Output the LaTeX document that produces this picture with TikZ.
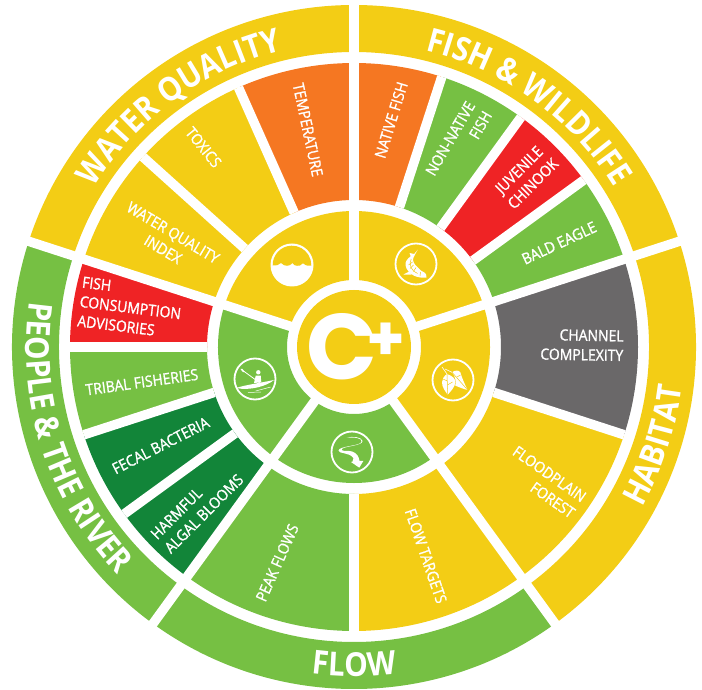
\documentclass[tikz,border=0pt]{standalone}
\usepackage{fontspec}
\usetikzlibrary{decorations.text}
\newfontfamily\wheelfont[FakeStretch=0.9,FakeBold=1.2]{Open Sans}
\newfontfamily\ringfont[FakeStretch=0.9]{Open Sans Bold}
\newfontfamily\gradefont{Poppins Bold}
\definecolor{wheelyellow}{HTML}{F3CD15}
\definecolor{wheelgreen}{HTML}{76C043}
\definecolor{wheelorange}{HTML}{F57722}
\definecolor{wheelred}{HTML}{EF2325}
\definecolor{wheeldark}{HTML}{128539}
\definecolor{wheelgray}{HTML}{6A6869}
\begin{document}
\begin{tikzpicture}[x=1pt,y=1pt]
    \tikzstyle{outerseg}=[line width=47pt]
    \tikzstyle{midseg}=[line width=137pt]
    \tikzstyle{innerseg}=[line width=69pt]
    \tikzstyle{gap}=[white,line width=9.5pt]
    \tikzstyle{label}=[text=white,font=\wheelfont\fontsize{15.5}{19.5}\selectfont,inner sep=0pt]
    \tikzstyle{ring}=[draw=white,line width=1.8pt,circle,minimum size=41pt,inner sep=0pt]
    \tikzstyle{glyph}=[fill=white,draw=none]
    \tikzstyle{vein}=[draw=wheelyellow,line width=0.5pt]

    \useasboundingbox (0,0) rectangle (702,689);
    \begin{scope}[shift={(354,342)}]

    % outer ring
    \draw[outerseg,wheelyellow] (162:318.5) arc (162:90:318.5pt);
    \draw[outerseg,wheelyellow] (90:318.5) arc (90:18:318.5pt);
    \draw[outerseg,wheelyellow] (18:318.5) arc (18:-54:318.5pt);
    \draw[outerseg,wheelgreen] (-54:318.5) arc (-54:-126:318.5pt);
    \draw[outerseg,wheelgreen] (-126:318.5) arc (-126:-198:318.5pt);

    % middle ring
    \draw[midseg,wheelorange] (90:215.5) arc (90:114:215.5pt);
    \draw[midseg,wheelyellow] (114:215.5) arc (114:138:215.5pt);
    \draw[midseg,wheelyellow] (138:215.5) arc (138:162:215.5pt);
    \draw[midseg,wheelred] (162:215.5) arc (162:180:215.5pt);
    \draw[midseg,wheelgreen] (180:215.5) arc (180:198:215.5pt);
    \draw[midseg,wheeldark] (198:215.5) arc (198:216:215.5pt);
    \draw[midseg,wheeldark] (216:215.5) arc (216:234:215.5pt);
    \draw[midseg,wheelgreen] (234:215.5) arc (234:270:215.5pt);
    \draw[midseg,wheelyellow] (270:215.5) arc (270:306:215.5pt);
    \draw[midseg,wheelyellow] (306:215.5) arc (306:342:215.5pt);
    \draw[midseg,wheelgray] (342:215.5) arc (342:378:215.5pt);
    \draw[midseg,wheelgreen] (18:215.5) arc (18:36:215.5pt);
    \draw[midseg,wheelred] (36:215.5) arc (36:54:215.5pt);
    \draw[midseg,wheelgreen] (54:215.5) arc (54:72:215.5pt);
    \draw[midseg,wheelorange] (72:215.5) arc (72:90:215.5pt);

    % inner ring
    \draw[innerseg,wheelyellow] (18:101.5) arc (18:90:101.5pt);
    \draw[innerseg,wheelyellow] (90:101.5) arc (90:162:101.5pt);
    \draw[innerseg,wheelgreen] (162:101.5) arc (162:234:101.5pt);
    \draw[innerseg,wheelgreen] (234:101.5) arc (234:306:101.5pt);
    \draw[innerseg,wheelyellow] (306:101.5) arc (306:378:101.5pt);

    % gaps
    \draw[gap] (18:60) -- (18:345);
    \draw[gap] (90:60) -- (90:345);
    \draw[gap] (162:60) -- (162:345);
    \draw[gap] (234:60) -- (234:345);
    \draw[gap] (306:60) -- (306:345);
    \draw[gap] (114:147) -- (114:284);
    \draw[gap] (138:147) -- (138:284);
    \draw[gap] (180:147) -- (180:284);
    \draw[gap] (198:147) -- (198:284);
    \draw[gap] (216:147) -- (216:284);
    \draw[gap] (270:147) -- (270:284);
    \draw[gap] (342:147) -- (342:284);
    \draw[gap] (36:147) -- (36:284);
    \draw[gap] (54:147) -- (54:284);
    \draw[gap] (72:147) -- (72:284);

    % center
    \fill[wheelyellow] (0,0) circle (57pt);
    \node[text=white,font=\gradefont\fontsize{93}{93}\selectfont,inner sep=0pt] at (-12,0) (grade) {C};
    \node[text=white,font=\gradefont\fontsize{62}{62}\selectfont,inner sep=0pt] at (31.5,5) (gradeplus) {+};

    % outer labels
    \path[decorate,decoration={text along path,text align=center,text={|\ringfont\fontsize{33}{33}\selectfont\color{white}|WATER QUALITY}}] (162:305) arc (162:90:305pt);
    \path[decorate,decoration={text along path,text align=center,text={|\ringfont\fontsize{33}{33}\selectfont\color{white}|FISH {\&} WILDLIFE}}] (90:305) arc (90:18:305pt);
    \path[decorate,decoration={text along path,text align=center,text={|\ringfont\fontsize{33}{33}\selectfont\color{white}|HABITAT}}] (-54:330) arc (-54:18:330pt);
    \path[decorate,decoration={text along path,text align=center,text={|\ringfont\fontsize{33}{33}\selectfont\color{white}|FLOW}}] (-126:329) arc (-126:-54:329pt);
    \path[decorate,decoration={text along path,text align=center,text={|\ringfont\fontsize{33}{33}\selectfont\color{white}|PEOPLE {\&} THE RIVER}}] (162:328) arc (162:234:328pt);

    % middle labels
    \node[label,rotate=-78] at (102:222) (temperature) {TEMPERATURE};
    \node[label,rotate=-51] at (127:250) (toxics) {TOXICS};
    \node[label,rotate=-31,align=center] at (150.3:214) (wqindex) {WATER QUALITY\\INDEX};
    \node[label,rotate=-7,align=left] at (170:227) (fishadvisories) {FISH\\CONSUMPTION\\ADVISORIES};
    \node[label,rotate=8] at (189.4:215) (tribal) {TRIBAL FISHERIES};
    \node[label,rotate=27] at (207:217) (fecal) {FECAL BACTERIA};
    \node[label,rotate=45,align=left] at (225.5:224) (algal) {HARMFUL\\ALGAL BLOOMS};
    \node[label,rotate=66] at (250.4:229) (peak) {PEAK FLOWS};
    \node[label,rotate=-71] at (-71:221) (targets) {FLOW TARGETS};
    \node[label,rotate=-35,align=right] at (-35.4:233) (floodplain) {FLOODPLAIN\\FOREST};
    \node[label,rotate=-1,align=right] at (0.5:228) (channel) {CHANNEL\\COMPLEXITY};
    \node[label,rotate=25] at (26.9:230) (eagle) {BALD EAGLE};
    \node[label,rotate=45,align=center] at (44.7:242) (chinook) {JUVENILE\\CHINOOK};
    \node[label,rotate=60,align=right] at (62.8:229) (nonnative) {NON-NATIVE\\FISH};
    \node[label,rotate=73] at (80.7:230) (native) {NATIVE FISH};

    % water icon
    \begin{scope}[shift={(-62,82)}]
        \fill[white] (0,0) circle (21.5pt);
        \fill[wheelyellow] (-19.3,-0.5) arc (181.5:-1.5:19.3pt) .. controls (16,-1.2) and (14,-0.8) .. (11,1.8)
            .. controls (9,-0.8) and (7,-0.8) .. (5,-0.8) .. controls (3,-0.8) and (2,0) .. (0.5,2)
            .. controls (-1,0) and (-3,-0.8) .. (-5,-0.8) .. controls (-7,-0.8) and (-9,0) .. (-11,2)
            .. controls (-13,0) and (-16,-1) .. (-19.3,-0.5) -- cycle;
    \end{scope}

    % fish icon
    \node[ring] at (62,83) (fishring) {};
    \begin{scope}[shift={(62,83)}]
        \fill[glyph] (1.8,14.3) -- (-1.8,10) -- (-6.5,11) .. controls (-6,9.5) and (-5.5,8.5) .. (-5.3,7.7)
            .. controls (-9,5) and (-11,2) .. (-10.5,-1) .. controls (-10,-6) and (-6,-9.5) .. (-2,-11.7)
            .. controls (2,-13.5) and (6,-14) .. (10.5,-13.5) .. controls (10.5,-11) and (10,-9.5) .. (8.7,-8.7)
            .. controls (6,-7.5) and (4,-6) .. (2.3,-4) .. controls (0,-2) and (-1.5,0) .. (-2,1)
            .. controls (-3,3) and (-3.2,4.5) .. (-2.7,6) .. controls (-1.5,9) and (0.5,12) .. (1.8,14.3) -- cycle;
        \fill[glyph] (-12.5,-10.5) -- (-6.5,-7.5) -- (-4.3,-10.7) -- cycle;
        \draw[vein] (-4.8,5) .. controls (-7.5,0) and (-5,-7) .. (1.5,-9.5);
        \draw[vein] (-3.5,2) -- (-7.5,-1);
        \draw[vein] (-2.5,-1) -- (-6,-4.5);
        \draw[vein] (0,-3.5) -- (-2.5,-7.5);
        \draw[vein] (4.5,-8) -- (4,-12);
    \end{scope}

    % leaf icon
    \node[ring] at (99,-33) (leafring) {};
    \begin{scope}[shift={(99,-33)}]
        \draw[white,line width=0.6pt] (-11,13) -- (-6,6);
        \draw[white,line width=0.6pt] (-8,11) -- (-1,7.7);
        \fill[glyph] (-6,6) .. controls (-9,4) and (-11,1) .. (-11,-2.3) .. controls (-11,-7) and (-8,-11) .. (-5.3,-14.7)
            .. controls (-2,-11) and (2,-7) .. (2.3,-2.3) .. controls (2.5,1) and (0,4) .. (-6,6) -- cycle;
        \fill[glyph] (-1,7.7) .. controls (2,10) and (6,10) .. (7.3,7.7) .. controls (9,2) and (12,-5) .. (14.7,-10)
            .. controls (10,-9) and (6,-7) .. (2.3,-5.7) .. controls (3.5,-1) and (2,4) .. (-1,7.7) -- cycle;
        \draw[vein] (-6,6) -- (-5.3,-14.7);
        \draw[vein] (-5.7,-1) -- (-10,1);
        \draw[vein] (-5.5,-5) -- (-0.5,-2);
        \draw[vein] (-1,7.7) -- (14.7,-10);
        \draw[vein] (4,3) -- (7.5,5);
    \end{scope}

    % river icon
    \node[ring] at (-2,-105) (riverring) {};
    \begin{scope}[shift={(-2,-105)}]
        \fill[glyph] (-5.3,14.3) .. controls (2,15) and (11,14) .. (9.5,10) .. controls (8,6) and (-13,6) .. (-13.5,1.5)
            .. controls (-13.5,-2) and (-3,0) .. (1.5,-6) -- (0.5,-9.5) -- (-1,-10) -- (7.3,-15.7) -- (11.3,-9) -- (7.5,-9)
            .. controls (7,-5) and (5,-1) .. (0,0.5) .. controls (-4,2) and (-10,0) .. (-10.5,2.5)
            .. controls (-9,6) and (11,6) .. (10.5,11) .. controls (10,15) and (0,16) .. (-5.3,14.3) -- cycle;
    \end{scope}

    % kayak icon
    \node[ring] at (-99,-32) (kayakring) {};
    \begin{scope}[shift={(-99,-32)}]
        \fill[white] (3.3,6.7) circle (2.2pt);
        \fill[glyph] (0.7,3.3) -- (5.7,3.5) -- (6.3,-3.3) -- (-1,-4) -- cycle;
        \draw[white,line width=0.8pt] (-13.3,9.3) -- (7.3,-5.7);
        \fill[glyph] (-14.5,10) -- (-12.5,10) -- (-10.5,7) -- (-12,6.8) -- cycle;
        \fill[glyph] (-19,-9) .. controls (-10,-6) and (5,-4) .. (19,-1) .. controls (12,-7) and (-5,-12) .. (-19,-9) -- cycle;
        \draw[white,line width=0.5pt] (0.7,-12) -- (15.7,-8);
        \draw[white,line width=0.5pt] (-7,-13.5) -- (6,-13);
    \end{scope}
    \end{scope}
\end{tikzpicture}
\end{document}
